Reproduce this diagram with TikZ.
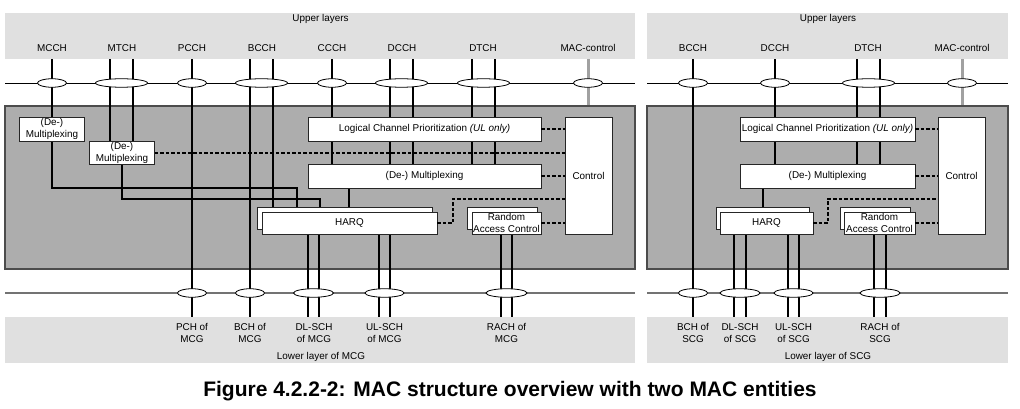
\documentclass[tikz,border=0pt]{standalone}
\usepackage{fontspec}
\setmainfont{Liberation Sans}
\usetikzlibrary{shapes.geometric}
\pgfdeclarelayer{bg}
\pgfdeclarelayer{ln}
\pgfsetlayers{bg,ln,main}
\newcommand\chl[3]{\draw[ch] (#1,0 |- #2) -- (#1,0 |- #3);}
\begin{document}
\begin{tikzpicture}[x=1pt,y=-1pt,
  font=\fontsize{9.9}{11.6}\selectfont,
  band/.style={fill=black!12, draw=none, inner sep=0pt, minimum height=46pt},
  mac/.style={fill=black!32, draw=black!70, line width=1.2pt, inner sep=0pt},
  wbox/.style={draw=black!85, fill=white, line width=0.8pt, inner sep=0pt, align=center},
  ch/.style={line width=1.9pt},
  gch/.style={line width=3pt, draw=black!37},
  ell/.style={ellipse, draw, fill=white, line width=0.8pt, minimum height=8.5pt, inner sep=0pt},
  dsh/.style={line width=1.9pt, dash pattern=on 3.5pt off 2pt},
  lab/.style={inner sep=0pt, align=center},
  hline/.style={line width=0.9pt},
  lline/.style={line width=1.2pt, draw=black!55}]
\useasboundingbox (0,0) rectangle (1020,409);

% ===================== LEFT PANEL (MCG) =====================
\begin{pgfonlayer}{bg}
\node[band, minimum width=630pt] (ubL) at (320,36) {};
\node[band, minimum width=630pt] (lbL) at (320,340) {};
\node[mac, minimum width=630pt, minimum height=163pt] (macL) at (320,187.5) {};
\end{pgfonlayer}

\node[lab] (upL) at (320.5,19) {Upper layers};
\node[lab] (uMCCH) at (52,48) {MCCH};
\node[lab] (uMTCH) at (122,48) {MTCH};
\node[lab] (uPCCH) at (192,48) {PCCH};
\node[lab] (uBCCH) at (262,48) {BCCH};
\node[lab] (uCCCH) at (332,48) {CCCH};
\node[lab] (uDCCH) at (402,48) {DCCH};
\node[lab] (uDTCH) at (483,48) {DTCH};
\node[lab] (uMACc) at (588,48) {MAC-control};

\node[lab] (lPCH) at (192,333) {PCH of\\MCG};
\node[lab] (lBCH) at (250,333) {BCH of\\MCG};
\node[lab] (lDL) at (314,333) {DL-SCH\\of MCG};
\node[lab] (lUL) at (384.5,333) {UL-SCH\\of MCG};
\node[lab] (lRACH) at (506.5,333) {RACH of\\MCG};
\node[lab] (lowL) at (321,357) {Lower layer of MCG};

\coordinate (hlLa) at (5,83);
\coordinate (hlLb) at (635,83);
\coordinate (llLa) at (5,293);
\coordinate (llLb) at (635,293);

% boxes
\node[wbox, minimum width=65pt, minimum height=24pt] (dm1) at (52,129) {(De-)\\Multiplexing};
\node[wbox, minimum width=65pt, minimum height=23pt] (dm2) at (122,153) {(De-)\\Multiplexing};
\node[wbox, minimum width=233pt, minimum height=24pt] (lcp) at (424.5,129) {Logical Channel Prioritization \textit{(UL only)}};
\node[wbox, minimum width=233pt, minimum height=24pt] (mux) at (424.5,176) {(De-) Multiplexing};
\node[wbox, minimum width=47pt, minimum height=117pt] (ctl) at (588.5,175.5) {Control};
\node[wbox, minimum width=175pt, minimum height=22pt] (hqb) at (344.5,218) {};
\node[wbox, minimum width=175pt, minimum height=22pt] (hq) at (349.5,223) {HARQ};
\node[wbox, minimum width=70pt, minimum height=22pt] (rab) at (502,218) {};
\node[wbox, minimum width=69pt, minimum height=22pt] (ra) at (506.5,223) {Random\\Access Control};

% ellipses
\node[ell, minimum width=29pt] (eMCCH) at (52,83) {};
\node[ell, minimum width=52pt] (eMTCH) at (121.5,83) {};
\node[ell, minimum width=29pt] (ePCCH) at (192,83) {};
\node[ell, minimum width=52pt] (eBCCH) at (261.5,83) {};
\node[ell, minimum width=29pt] (eCCCH) at (332,83) {};
\node[ell, minimum width=52pt] (eDCCH) at (401.5,83) {};
\node[ell, minimum width=52pt] (eDTCH) at (483.5,83) {};
\node[ell, minimum width=29pt] (eMACc) at (588,83) {};
\node[ell, minimum width=29pt] (ePCH) at (192,293) {};
\node[ell, minimum width=29pt] (eBCH) at (250,293) {};
\node[ell, minimum width=40pt] (eDL) at (313.5,293) {};
\node[ell, minimum width=39pt] (eUL) at (384.5,293) {};
\node[ell, minimum width=41pt] (eRACH) at (506.5,293) {};

\begin{pgfonlayer}{ln}
\draw[hline] (hlLa) -- (hlLb);
\draw[lline] (llLa) -- (llLb);
\chl{52}{ubL.south}{dm1.north}
\chl{110}{ubL.south}{dm2.north}
\chl{133}{ubL.south}{dm2.north}
\chl{192}{ubL.south}{lbL.north}
\chl{250}{ubL.south}{lbL.north}
\chl{273}{ubL.south}{hqb.north}
\chl{332}{ubL.south}{lcp.north}
\chl{390}{ubL.south}{lcp.north}
\chl{413}{ubL.south}{lcp.north}
\chl{472}{ubL.south}{lcp.north}
\chl{495}{ubL.south}{lcp.north}
\chl{332}{lcp.south}{mux.north}
\chl{390}{lcp.south}{mux.north}
\chl{413}{lcp.south}{mux.north}
\chl{472}{lcp.south}{mux.north}
\chl{495}{lcp.south}{mux.north}
\chl{349}{mux.south}{hqb.north}
\chl{308}{hq.south}{lbL.north}
\chl{319}{hq.south}{lbL.north}
\chl{379}{hq.south}{lbL.north}
\chl{390}{hq.south}{lbL.north}
\chl{501}{ra.south}{lbL.north}
\chl{512}{ra.south}{lbL.north}
\draw[gch] (588,0 |- ubL.south) -- (588,0 |- macL.north);
\draw[ch] (dm1.south) -- (dm1.south |- 0,188) -| (297,0 |- hqb.north);
\draw[ch] (dm2.south) -- (dm2.south |- 0,199) -| (320,0 |- hqb.north);
\end{pgfonlayer}
\draw[dsh] (dm2.east) -- (dm2.east -| ctl.west);
\draw[dsh] (lcp.east) -- (lcp.east -| ctl.west);
\draw[dsh] (mux.east) -- (mux.east -| ctl.west);
\draw[dsh] (ra.east) -- (ra.east -| ctl.west);
\draw[dsh] (hq.east) -- (453,0 |- hq.east) |- (ctl.west |- 0,199);

% ===================== RIGHT PANEL (SCG) =====================
\begin{pgfonlayer}{bg}
\node[band, minimum width=361pt] (ubR) at (827.5,36) {};
\node[band, minimum width=361pt] (lbR) at (827.5,340) {};
\node[mac, minimum width=361pt, minimum height=163pt] (macR) at (827.5,187.5) {};
\end{pgfonlayer}

\node[lab] (upR) at (828,19) {Upper layers};
\node[lab] (uBCCH2) at (693,48) {BCCH};
\node[lab] (uDCCH2) at (775,48) {DCCH};
\node[lab] (uDTCH2) at (868,48) {DTCH};
\node[lab] (uMACc2) at (962,48) {MAC-control};

\node[lab] (lBCH2) at (693,333) {BCH of\\SCG};
\node[lab] (lDL2) at (740,333) {DL-SCH\\of SCG};
\node[lab] (lUL2) at (793.5,333) {UL-SCH\\of SCG};
\node[lab] (lRACH2) at (880,333) {RACH of\\SCG};
\node[lab] (lowR) at (828,357) {Lower layer of SCG};

\coordinate (hlRa) at (647,83);
\coordinate (hlRb) at (1008,83);
\coordinate (llRa) at (647,293);
\coordinate (llRb) at (1008,293);

\node[wbox, minimum width=175pt, minimum height=24pt] (lcp2) at (827.5,129) {Logical Channel Prioritization \textit{(UL only)}};
\node[wbox, minimum width=175pt, minimum height=24pt] (mux2) at (827.5,176) {(De-) Multiplexing};
\node[wbox, minimum width=47pt, minimum height=117pt] (ctl2) at (961.5,175.5) {Control};
\node[wbox, minimum width=93pt, minimum height=22pt] (hqb2) at (762.5,218) {};
\node[wbox, minimum width=93pt, minimum height=22pt] (hq2) at (766.5,223) {HARQ};
\node[wbox, minimum width=70pt, minimum height=22pt] (rab2) at (875,218) {};
\node[wbox, minimum width=71pt, minimum height=22pt] (ra2) at (879.5,223) {Random\\Access Control};

\node[ell, minimum width=29pt] (eBCCH2) at (693,83) {};
\node[ell, minimum width=29pt] (eDCCH2) at (775,83) {};
\node[ell, minimum width=52pt] (eDTCH2) at (868.5,83) {};
\node[ell, minimum width=29pt] (eMACc2) at (962,83) {};
\node[ell, minimum width=29pt] (eBCH2) at (693,293) {};
\node[ell, minimum width=40pt] (eDL2) at (740,293) {};
\node[ell, minimum width=39pt] (eUL2) at (793.5,293) {};
\node[ell, minimum width=40pt] (eRACH2) at (880,293) {};

\begin{pgfonlayer}{ln}
\draw[hline] (hlRa) -- (hlRb);
\draw[lline] (llRa) -- (llRb);
\chl{693}{ubR.south}{lbR.north}
\chl{775}{ubR.south}{lcp2.north}
\chl{857}{ubR.south}{lcp2.north}
\chl{880}{ubR.south}{lcp2.north}
\chl{775}{lcp2.south}{mux2.north}
\chl{857}{lcp2.south}{mux2.north}
\chl{880}{lcp2.south}{mux2.north}
\chl{763}{mux2.south}{hqb2.north}
\chl{734}{hq2.south}{lbR.north}
\chl{746}{hq2.south}{lbR.north}
\chl{788}{hq2.south}{lbR.north}
\chl{799}{hq2.south}{lbR.north}
\chl{874}{ra2.south}{lbR.north}
\chl{886}{ra2.south}{lbR.north}
\draw[gch] (962,0 |- ubR.south) -- (962,0 |- macR.north);
\end{pgfonlayer}
\draw[dsh] (lcp2.east) -- (lcp2.east -| ctl2.west);
\draw[dsh] (mux2.east) -- (mux2.east -| ctl2.west);
\draw[dsh] (ra2.east) -- (ra2.east -| ctl2.west);
\draw[dsh] (hq2.east) -- (828,0 |- hq2.east) |- (ctl2.west |- 0,199);

% caption
\node[lab, font=\fontsize{21}{25}\selectfont\bfseries] (cap) at (510,391) {Figure 4.2.2-2: MAC structure overview with two MAC entities};
\end{tikzpicture}
\end{document}
